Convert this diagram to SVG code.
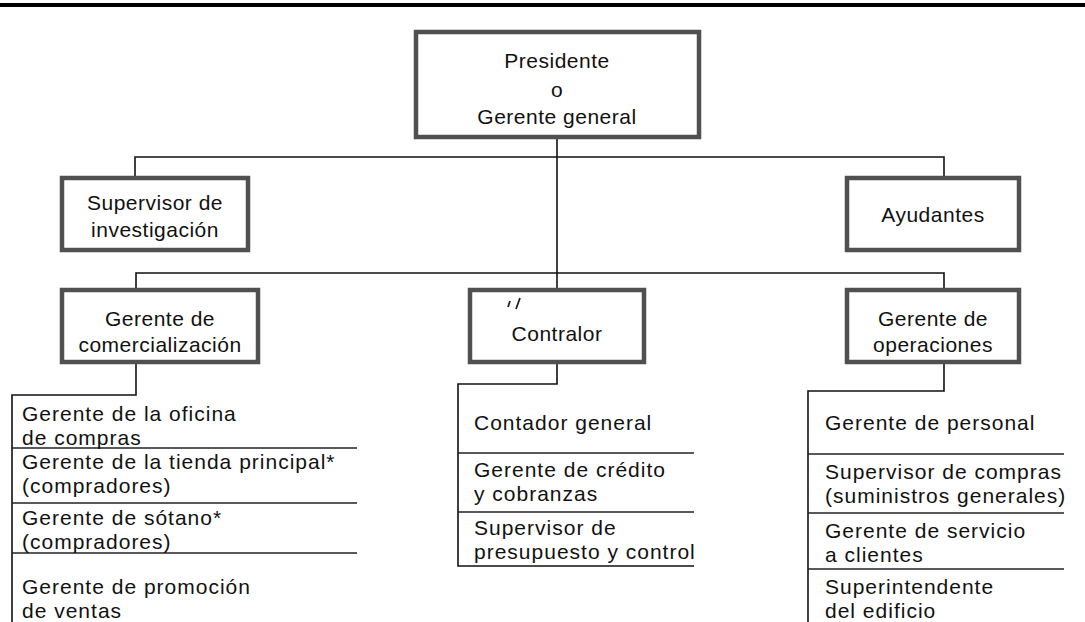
<svg xmlns="http://www.w3.org/2000/svg" width="1085" height="622" viewBox="0 0 1085 622">
<style>
  .box { fill: #ffffff; stroke: #505050; stroke-width: 4.5; }
  .t { font-family: "Liberation Sans", Arial, sans-serif; font-size: 21px; letter-spacing: 0.5px; fill: #111; text-anchor: middle; }
  .lt { font-family: "Liberation Sans", Arial, sans-serif; font-size: 21px; letter-spacing: 1px; fill: #111; }
  .c { stroke: #111; stroke-width: 1.6; fill: none; }
  .sep { stroke: #222; stroke-width: 1.4; fill: none; }
</style>
<rect x="0" y="0" width="1085" height="622" fill="#ffffff"/>
<line x1="0" y1="5" x2="1085" y2="5" stroke="#000" stroke-width="4"/>

<g id="connectors">
  <path class="c" d="M557 137 V290"/>
  <path class="c" d="M135 178 V157 H944 V178"/>
  <path class="c" d="M136 290 V273 H944 V290"/>
  <path class="c" d="M136 362 V395 H12 V622"/>
  <path class="c" d="M557 362 V384 H458 V566 H694"/>
  <path class="c" d="M944 362 V391 H808 V622"/>
</g>

<g id="presidente">
  <rect class="box" x="416" y="32" width="283" height="105"/>
  <text class="t" x="557" y="68">Presidente</text>
  <text class="t" x="557" y="97">o</text>
  <text class="t" x="557" y="124">Gerente general</text>
</g>

<g id="supervisor-investigacion">
  <rect class="box" x="62" y="178" width="186" height="72"/>
  <text class="t" x="155" y="210">Supervisor de</text>
  <text class="t" x="155" y="237">investigación</text>
</g>

<g id="ayudantes">
  <rect class="box" x="847" y="178" width="172" height="72"/>
  <text class="t" x="933" y="222">Ayudantes</text>
</g>

<g id="gerente-comercializacion">
  <rect class="box" x="62" y="290" width="196" height="72"/>
  <text class="t" x="160" y="326">Gerente de</text>
  <text class="t" x="160" y="352">comercialización</text>
</g>

<g id="contralor">
  <rect class="box" x="470" y="290" width="174" height="72"/>
  <path d="M510 301 l-2 6 M520 298 l-4 11" stroke="#222" stroke-width="1.8" fill="none"/>
  <text class="t" x="557" y="341">Contralor</text>
</g>

<g id="gerente-operaciones">
  <rect class="box" x="847" y="290" width="172" height="72"/>
  <text class="t" x="933" y="326">Gerente de</text>
  <text class="t" x="933" y="352">operaciones</text>
</g>

<g id="lista-comercializacion">
  <line class="sep" x1="12" y1="448" x2="357" y2="448"/>
  <line class="sep" x1="12" y1="503" x2="357" y2="503"/>
  <line class="sep" x1="12" y1="553" x2="357" y2="553"/>
  <text class="lt" x="22" y="421">Gerente de la oficina</text>
  <text class="lt" x="22" y="445">de compras</text>
  <text class="lt" x="22" y="469">Gerente de la tienda principal*</text>
  <text class="lt" x="22" y="493">(compradores)</text>
  <text class="lt" x="22" y="525">Gerente de sótano*</text>
  <text class="lt" x="22" y="549">(compradores)</text>
  <text class="lt" x="22" y="594">Gerente de promoción</text>
  <text class="lt" x="22" y="618">de ventas</text>
</g>

<g id="lista-contralor">
  <line class="sep" x1="458" y1="453" x2="694" y2="453"/>
  <line class="sep" x1="458" y1="512" x2="694" y2="512"/>
  <text class="lt" x="474" y="430">Contador general</text>
  <text class="lt" x="474" y="477">Gerente de crédito</text>
  <text class="lt" x="474" y="501">y cobranzas</text>
  <text class="lt" x="474" y="535">Supervisor de</text>
  <text class="lt" x="474" y="559" letter-spacing="0.6">presupuesto y control</text>
</g>

<g id="lista-operaciones">
  <line class="sep" x1="808" y1="454" x2="1064" y2="454"/>
  <line class="sep" x1="808" y1="513" x2="1064" y2="513"/>
  <line class="sep" x1="808" y1="569" x2="1064" y2="569"/>
  <text class="lt" x="825" y="430">Gerente de personal</text>
  <text class="lt" x="825" y="479">Supervisor de compras</text>
  <text class="lt" x="825" y="503">(suministros generales)</text>
  <text class="lt" x="825" y="538">Gerente de servicio</text>
  <text class="lt" x="825" y="562">a clientes</text>
  <text class="lt" x="825" y="594">Superintendente</text>
  <text class="lt" x="825" y="618">del edificio</text>
</g>
</svg>
